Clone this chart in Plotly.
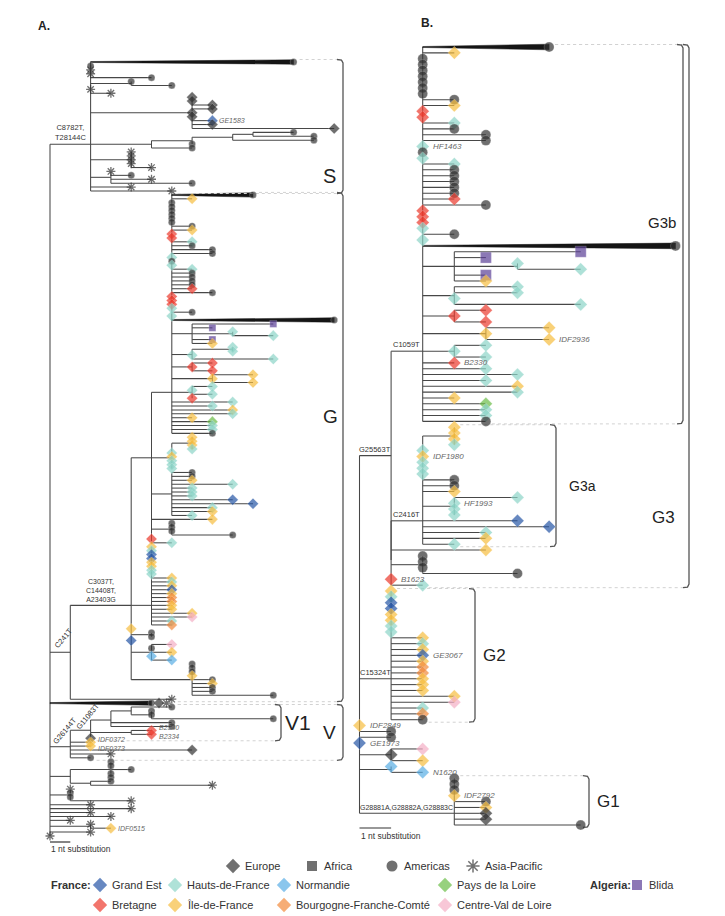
import plotly.graph_objects as go

W, H = 725, 916
FONT = "Liberation Sans, Arial, sans-serif"

# ====================== DATA ======================
# Tip codes: E Europe, F Africa, A Americas, P Asia-Pacific,
# GE Grand Est, HF Hauts-de-France, NO Normandie, PL Pays de la Loire,
# BR Bretagne, IF Ile-de-France, BF Bourgogne-Franche-Comte, CV Centre-Val de Loire,
# BL Blida (Algeria).  "W..." = collapsed clade (wedge) followed by its end-marker codes.
# Syntax: Newick-like, tip = CODE[/label]:branch_length (nt substitutions), node = (...)name:len
# A leading "*" marks the child on which the parent's stem is drawn (hidden binary resolution).

TREE_A_S = ("(WA:10,A:0,P:0,P:0,A:3,(A:0,A:2):2,P:0,P:1,"
            "(E:0,E:0,E:1,E:1,E:0,E:0,GE/GE1583:1,E:1,E:7):5,"
            "*((((A:2,A:3):1,A:4):2,A:0):2,A:2):3,(P:0,P:0,P:0,P:0,P:1):2,"
            "(P:0,A:1,P:2,A:4):1,P:2,P:4)S:2")
TREE_A_G_TOP = ("(WA:4,IF:1,A:0,A:0,A:0,A:0,A:0,A:0,A:1,IF:1,BR:0,BR:0,HF:1,A:1,A:2,A:2,"
                "HF:0,A:0,HF:0,HF:1,A:1,A:1,A:1,A:1,BR:1,A:2,BR:0,BR:0,BR:0,HF:0,A:1,HF:0,WA:8,"
                "(BL:4,BL:1,(HF:0,HF:2):2,BL:1,IF:1):1,((HF:0,HF:0):2,HF:0,HF:4):1,"
                "(BR:1,BR:0,BR:1):1,(IF:2,IF:0,IF:2):2,*(HF:1,HF:0,HF:1,BR:0):1,"
                "HF:3,HF:2,IF:3,HF:3,IF:1,PL:2,HF:2,HF:2,A:2):1")
TREE_A_G_MID = ("*((IF:0,IF:0,IF:0,HF:0):1,HF:0,IF:0,HF:0,HF:0,HF:0):1,"
                "(A:1,A:1,IF:1,HF:3,HF:1,HF:1,HF:1,GE:3,GE:4,HF:2,IF:2,HF:1):1,"
                "IF:3,(A:0,A:0,A:0,A:3):1,BR:0,HF:1")
TREE_A_G_LOW = ("*(IF:0,HF:0,GE:0,GE:0,IF:0,IF:0,HF:0,HF:0,IF:1,HF:1,IF:1,GE:1,IF:1,BF:1,BF:1,"
                "*IF:1,IF:1,IF:2,CV:2,HF:1,BF:1):1,IF:0,(A:0,A:0):1,GE:0,"
                "(CV:1,A:0,IF:1,NO:0,NO:1):1,(A:0,A:0,A:0,IF:0,A:1,IF:1,A:1,A:1,A:4):3")
TREE_A_V = ("((((A:2,(A:0,A:0,A:6):1):1,A:3,A:3):1,(BR/B2340:1,BR/B2334:1):2,E:0)V1:1,"
            "IF/IDF0372:1,IF/IDF0373:1,E:6,P:2,A:1)V:1")
TREE_A_BASAL = ("((A:0,A:0,A:1,A:0,A:0):2,(A:1,P:6):1):1,(P:0,A:0,A:0,P:3):1,"
                "P:2,P:4,P:2,P:3,P:1,(P:0,IF/IDF0515:1):2,P:2,P:0")
TREE_A = ("(" + TREE_A_S + ",(((" + TREE_A_G_TOP + "," + TREE_A_G_MID + "):1,"
          + TREE_A_G_LOW + ")G:3,P:5)C241T:1,WAEP:5," + TREE_A_V + "," + TREE_A_BASAL + ")")

TREE_B_G3B = ("(WA:4,IF:1,A:0,A:0,A:0,A:0,A:0,A:0,A:0,A:1,IF:1,BR:0,BR:0,HF:1,A:1,A:2,A:2,"
              "HF/HF1463:0,A:0,HF:0,HF:1,A:1,A:1,A:1,A:1,A:1,BR:1,A:2,BR:0,BR:0,BR:0,HF:0,A:1,HF:0,"
              "WA:8,(BL:4,BL:1,(HF:0,HF:2):2,BL:1,IF:1):1,(HF:2,HF:2,HF:0,HF:4):1,"
              "(BR:1,BR:0,BR:1):1,(IF:2,IF:0,IF/IDF2936:2):2,*(HF:1,HF:0,HF:1):1,BR/B2330:1,"
              "HF:2,HF:3,HF:2,IF:3,HF:3,IF:1,PL:2,HF:2,HF:2,A:2)G3b:1")
TREE_B_G3A = ("((IF:0,IF:0,IF:0,HF:0):1,HF:0,IF/IDF1980:0,HF:0,HF:0,HF:0,A:1,A:1,IF:1,"
              "(HF:2,HF/HF1993:0,HF:0,HF:0):1,*GE:3,GE:4,HF:2,IF:2,HF:1)G3a:1")
TREE_B_G3_REST = "IF:3,(A:0,A:0,A:0,A:3):1,BR/B1623:0,HF:1"
TREE_B_G2 = ("(IF:0,HF:0,GE:0,GE:0,IF:0,IF:0,HF:0,HF:0,IF:1,HF:1,IF:1,GE/GE3067:1,IF:1,"
             "BF:1,BF:1,*IF:1,IF:1,IF:1,IF:2,CV:2,HF:1,BF:1,A:1)G2:1")
TREE_B_BASAL = ("IF/IDF2849:0,A:1,A:1,GE/GE1973:0,(CV:1,E:0,IF:1):1,(NO:0,NO/N1620:1):1,"
                "(A:0,A:0,A:0,IF/IDF2792:0,A:1,IF:1,*E:1,E:1,A:4)G1:3")
TREE_B = ("((" + TREE_B_G3B + ",(" + TREE_B_G3A + "," + TREE_B_G3_REST + "):0)G3:1,"
          + TREE_B_G2 + "," + TREE_B_BASAL + ")")

MUTATIONS_A = [("S", "C8782T,<br>T28144C"), ("G", "C3037T,<br>C14408T,<br>A23403G"),
               ("C241T", "C241T"), ("V", "G26144T"), ("V1", "G11083T")]
MUTATIONS_B = [("G3b", "C1059T"), ("G3", "G25563T"), ("G3a", "C2416T"),
               ("G2", "C15324T"), ("G1", "G28881A,G28882A,G28883C")]
CLADES_A = [("S", "S"), ("C241T", "G"), ("V1", "V1"), ("V", "V")]
CLADES_B = [("G3b", "G3b"), ("G3", "G3"), ("G3a", "G3a"), ("G2", "G2"), ("G1", "G1")]

LEGEND_ORIGIN = [("E", "Europe"), ("F", "Africa"), ("A", "Americas"), ("P", "Asia-Pacific")]
LEGEND_FRANCE_1 = [("GE", "Grand Est"), ("HF", "Hauts-de-France"), ("NO", "Normandie"),
                   ("PL", "Pays de la Loire")]
LEGEND_FRANCE_2 = [("BR", "Bretagne"), ("IF", "Île-de-France"), ("BF", "Bourgogne-Franche-Comté"),
                   ("CV", "Centre-Val de Loire")]
LEGEND_ALGERIA = [("BL", "Blida")]

# ====================== STYLE ======================
STYLE = {
    "E": ("diamond", "#333333"), "F": ("square", "#333333"), "A": ("circle", "#333333"),
    "P": ("asterisk-open", "#333333"),
    "GE": ("diamond", "#2656a6"), "HF": ("diamond", "#8dd5c8"), "NO": ("diamond", "#5aaee5"),
    "PL": ("diamond", "#6bbd47"), "BR": ("diamond", "#ec3a2d"), "IF": ("diamond", "#f7be40"),
    "BF": ("diamond", "#f28a3c"), "CV": ("diamond", "#f5afc6"), "BL": ("square", "#5b3f97"),
}

PANEL_A = dict(xa="x", ya="y", dom=(0, 346), x0=42.0, unit=20.3, top=54.0, bottom=828.0,
               wedge=2.2, lab_shift=5, lab_size=7,
               sizes={"diamond": 8.5, "circle": 7, "square": 7, "asterisk-open": 7.5},
               scale_y=834, scale_text_y=841, mut_size=7.5)
PANEL_B = dict(xa="x2", ya="y2", dom=(346, 725), x0=351.5, unit=31.6, top=39.0, bottom=817.0,
               wedge=2.8, lab_shift=8, lab_size=8,
               sizes={"diamond": 10, "circle": 10, "square": 11, "asterisk-open": 9},
               scale_y=820, scale_text_y=828, mut_size=7.5)
# bracket geometry: x position (px), label side, label position along bracket, font size, gap
BRACKET_GEOM_A = {"S": (335, "in", 0.87, 20, -5), "G": (335, "in", 0.44, 19, -3),
                  "V1": (273, "out", 0.5, 21, 2), "V": (335, "in", 0.5, 19, -5)}
BRACKET_GEOM_B = {"G3b": (675, "in", 0.47, 15, -5), "G3": (681, "in", 0.87, 17, -12),
                  "G3a": (548, "out", 0.5, 14, 11), "G2": (467, "out", 0.5, 17, 6),
                  "G1": (581, "out", 0.5, 17, 6)}
ROTATED = {"C241T": (3, 14), "V": (5, 16), "V1": (7, 14)}


def parse(s):
    pos = 0

    def read_until(stops):
        nonlocal pos
        st = pos
        while pos < len(s) and s[pos] not in stops:
            pos += 1
        return s[st:pos]

    def node():
        nonlocal pos
        n = {"children": [], "name": "", "len": 0.0, "code": None, "label": "", "star": False}
        if s[pos] == "*":
            n["star"] = True
            pos += 1
        if s[pos] == "(":
            pos += 1
            while True:
                n["children"].append(node())
                if s[pos] == ",":
                    pos += 1
                    continue
                pos += 1
                break
            n["name"] = read_until(":,)")
        else:
            tok = read_until(":,)")
            if "/" in tok:
                n["code"], n["label"] = tok.split("/", 1)
            else:
                n["code"] = tok
        if pos < len(s) and s[pos] == ":":
            pos += 1
            n["len"] = float(read_until(",)"))
        return n

    return node()


def layout_tree(root):
    tips, named = [], {}

    def rec(n, x):
        n["x"] = x
        if n["name"]:
            named[n["name"]] = n
        if n["children"]:
            for c in n["children"]:
                rec(c, x + c["len"])
            ys = [c["y"] for c in n["children"]]
            starred = [c["y"] for c in n["children"] if c["star"]]
            n["y"] = starred[0] if starred else sum(ys) / len(ys)
            n["ylo"], n["yhi"] = min(ys), max(ys)
            n["first"] = n["children"][0]["first"]
            n["last"] = n["children"][-1]["last"]
        else:
            n["y"] = float(len(tips))
            tips.append(n)
            n["first"] = n["last"] = n

    rec(root, 0.0)
    return tips, named


fig = go.Figure()
anns = []
axes_layout = {}


def draw_panel(tree, P, mutations, clades, geom):
    root = parse(tree)
    tips, named = layout_tree(root)
    sp = (P["bottom"] - P["top"]) / (len(tips) - 1)
    u = P["unit"]

    def dx(px):
        return px / u

    def dy(px):
        return px / sp

    lx, ly, wx, wy = [], [], [], []
    mk = {k: [] for k in ("x", "y", "sym", "col", "size", "lc", "lw")}
    labelled = []

    def add_marker(code, x, y):
        sym, col = STYLE[code]
        mk["x"].append(x); mk["y"].append(y)
        mk["sym"].append(sym); mk["col"].append(col)
        mk["size"].append(P["sizes"][sym])
        if sym.endswith("open"):
            mk["lc"].append(col); mk["lw"].append(1.3)
        else:
            mk["lc"].append("rgba(255,255,255,0.7)"); mk["lw"].append(0.4)

    def walk(n):
        if n["children"]:
            lx.extend([n["x"], n["x"], None]); ly.extend([n["ylo"], n["yhi"], None])
            for c in n["children"]:
                if c["code"] and c["code"].startswith("W"):
                    h, t = dy(P["wedge"]), dy(0.5)
                    wx.extend([n["x"], c["x"], c["x"], n["x"], n["x"], None])
                    wy.extend([c["y"] - t, c["y"] - h, c["y"] + h, c["y"] + t, c["y"] - t, None])
                elif c["len"] > 0:
                    lx.extend([n["x"], c["x"], None]); ly.extend([c["y"], c["y"], None])
                walk(c)
        else:
            code = n["code"]
            if code.startswith("W"):
                ends = list(code[1:])
                for k, ch in enumerate(ends):
                    add_marker(ch, n["x"] + dx(7.5) * k, n["y"])
                n["xend"] = n["x"] + dx(7.5) * (len(ends) - 1)
            else:
                add_marker(code, n["x"], n["y"])
                n["xend"] = n["x"]
            if n["label"]:
                labelled.append(n)

    walk(root)
    xa, ya = P["xa"], P["ya"]

    # tip labels (nudge apart labels on adjacent rows)
    shifts = [0.0] * len(labelled)
    for i in range(len(labelled) - 1):
        if labelled[i + 1]["y"] - labelled[i]["y"] < 1.5:
            shifts[i] += 2.5
            shifts[i + 1] -= 2.5
    for n, sh in zip(labelled, shifts):
        anns.append(dict(x=n["x"], y=n["y"], xref=xa, yref=ya,
                         text="<i>" + n["label"] + "</i>", showarrow=False,
                         xanchor="left", yanchor="middle", xshift=P["lab_shift"], yshift=sh,
                         font=dict(size=P["lab_size"], color="#666666", family=FONT)))

    fig.add_trace(go.Scatter(x=lx, y=ly, mode="lines", line=dict(color="#474747", width=1.05),
                             xaxis=xa, yaxis=ya, hoverinfo="skip"))
    fig.add_trace(go.Scatter(x=wx, y=wy, mode="lines", fill="toself", fillcolor="#151515",
                             line=dict(color="#151515", width=0.5), xaxis=xa, yaxis=ya,
                             hoverinfo="skip"))

    # clade brackets
    bx_l, by_l, dx_l, dy_l = [], [], [], []
    for name, label in clades:
        bpx, side, frac, fs, gap = geom[label]
        nd = named[name]
        bx = (bpx - P["x0"]) / u
        t0, t1 = nd["first"], nd["last"]
        ytop, ybot = t0["y"] - dy(2.5), t1["y"] + dy(2.5)
        hook, r, c = dx(6), dx(1.5), dy(3.5)
        bx_l.extend([bx - hook, bx - r, bx, bx, bx - r, bx - hook, None])
        by_l.extend([ytop, ytop + dy(0.6), ytop + c, ybot - c, ybot - dy(0.6), ybot, None])
        dx_l.extend([t0["xend"] + dx(6), bx - hook, None, t1["xend"] + dx(6), bx - hook, None])
        dy_l.extend([ytop, ytop, None, ybot, ybot, None])
        anns.append(dict(x=bx, y=ytop + frac * (ybot - ytop), xref=xa, yref=ya, text=label,
                         showarrow=False, xanchor="right" if side == "in" else "left",
                         yanchor="middle", xshift=gap,
                         font=dict(size=fs, color="#222222", family=FONT)))
    fig.add_trace(go.Scatter(x=dx_l, y=dy_l, mode="lines",
                             line=dict(color="#d2d2d2", width=1, dash="dot"),
                             xaxis=xa, yaxis=ya, hoverinfo="skip"))
    fig.add_trace(go.Scatter(x=bx_l, y=by_l, mode="lines", line=dict(color="#555555", width=1.3),
                             xaxis=xa, yaxis=ya, hoverinfo="skip"))

    fig.add_trace(go.Scatter(x=mk["x"], y=mk["y"], mode="markers", cliponaxis=False,
                             marker=dict(symbol=mk["sym"], color=mk["col"], size=mk["size"],
                                         line=dict(color=mk["lc"], width=mk["lw"])),
                             xaxis=xa, yaxis=ya, hoverinfo="skip"))

    # mutation labels on branches
    for name, text in mutations:
        nd = named[name]
        xm = nd["x"] - nd["len"] / 2.0
        if name in ROTATED:
            xs, ys = ROTATED[name]
            anns.append(dict(x=xm, y=nd["y"], xref=xa, yref=ya, text=text, showarrow=False,
                             textangle=-50, xanchor="center", yanchor="middle",
                             xshift=xs, yshift=ys,
                             font=dict(size=P["mut_size"], color="#333333", family=FONT)))
        else:
            anns.append(dict(x=xm, y=nd["y"], xref=xa, yref=ya, text=text, showarrow=False,
                             xanchor="center", yanchor="bottom", yshift=0,
                             font=dict(size=P["mut_size"] if len(text) < 20 else 7,
                                       color="#333333", family=FONT)))

    # scale bar (1 nt substitution)
    ys = (P["scale_y"] - P["top"]) / sp
    fig.add_trace(go.Scatter(x=[0, 1], y=[ys, ys], mode="lines",
                             line=dict(color="#333333", width=1.2),
                             xaxis=xa, yaxis=ya, hoverinfo="skip"))
    anns.append(dict(x=0, y=(P["scale_text_y"] - P["top"]) / sp, xref=xa, yref=ya,
                     text="1 nt substitution", showarrow=False, xanchor="left",
                     yanchor="middle", xshift=-1,
                     font=dict(size=8.5, color="#333333", family=FONT)))

    n = xa[1:] or ""
    axes_layout["xaxis" + n] = dict(domain=[P["dom"][0] / W, P["dom"][1] / W],
                                    range=[(P["dom"][0] - P["x0"]) / u, (P["dom"][1] - P["x0"]) / u],
                                    visible=False, fixedrange=True, anchor=ya)
    axes_layout["yaxis" + n] = dict(domain=[0, 1], range=[(H - P["top"]) / sp, -P["top"] / sp],
                                    visible=False, fixedrange=True, anchor=xa)


draw_panel(TREE_A, PANEL_A, MUTATIONS_A, CLADES_A, BRACKET_GEOM_A)
draw_panel(TREE_B, PANEL_B, MUTATIONS_B, CLADES_B, BRACKET_GEOM_B)

# ---------------- legend (pixel overlay axis) ----------------
LEG_ROW_Y = [858, 877, 897]
LEG_ORIGIN_X = [225, 304, 384, 465]
LEG_REGION_X = [92, 167, 276, 437]
LEG_BLIDA_X = 629

lgx, lgy, lgs, lgc, lgsz, lglc, lglw = [], [], [], [], [], [], []


def leg_item(code, text, x, y):
    sym, col = STYLE[code]
    lgx.append(x); lgy.append(y); lgs.append(sym); lgc.append(col)
    lgsz.append(11 if sym != "square" else 10)
    lglc.append(col if sym.endswith("open") else "white")
    lglw.append(1.5 if sym.endswith("open") else 0)
    anns.append(dict(x=x + 10, y=y, xref="x3", yref="y3", text=text, showarrow=False,
                     xanchor="left", yanchor="middle",
                     font=dict(size=11, color="#333333", family=FONT)))


for (code, text), x in zip(LEGEND_ORIGIN, LEG_ORIGIN_X):
    leg_item(code, text, x, LEG_ROW_Y[0])
for (code, text), x in zip(LEGEND_FRANCE_1, LEG_REGION_X):
    leg_item(code, text, x, LEG_ROW_Y[1])
for (code, text), x in zip(LEGEND_FRANCE_2, LEG_REGION_X):
    leg_item(code, text, x, LEG_ROW_Y[2])
for code, text in LEGEND_ALGERIA:
    leg_item(code, text, LEG_BLIDA_X, LEG_ROW_Y[1])

anns.append(dict(x=41, y=LEG_ROW_Y[1], xref="x3", yref="y3", text="<b>France:</b>",
                 showarrow=False, xanchor="left", yanchor="middle",
                 font=dict(size=11, color="#333333", family=FONT)))
anns.append(dict(x=580, y=LEG_ROW_Y[1], xref="x3", yref="y3", text="<b>Algeria:</b>",
                 showarrow=False, xanchor="left", yanchor="middle",
                 font=dict(size=11, color="#333333", family=FONT)))
anns.append(dict(x=28, y=18, xref="x3", yref="y3", text="<b>A.</b>", showarrow=False,
                 xanchor="left", yanchor="middle", font=dict(size=12, color="#222222", family=FONT)))
anns.append(dict(x=411, y=15, xref="x3", yref="y3", text="<b>B.</b>", showarrow=False,
                 xanchor="left", yanchor="middle", font=dict(size=12, color="#222222", family=FONT)))

fig.add_trace(go.Scatter(x=lgx, y=lgy, mode="markers", cliponaxis=False,
                         marker=dict(symbol=lgs, color=lgc, size=lgsz,
                                     line=dict(color=lglc, width=lglw)),
                         xaxis="x3", yaxis="y3", hoverinfo="skip"))
axes_layout["xaxis3"] = dict(domain=[0, 1], range=[0, W], visible=False, fixedrange=True, anchor="y3")
axes_layout["yaxis3"] = dict(domain=[0, 1], range=[H, 0], visible=False, fixedrange=True, anchor="x3")

fig.update_layout(width=W, height=H, margin=dict(l=0, r=0, t=0, b=0), showlegend=False,
                  paper_bgcolor="white", plot_bgcolor="rgba(0,0,0,0)",
                  annotations=anns, **axes_layout)
fig.write_html("out.html", config={"displayModeBar": False})
